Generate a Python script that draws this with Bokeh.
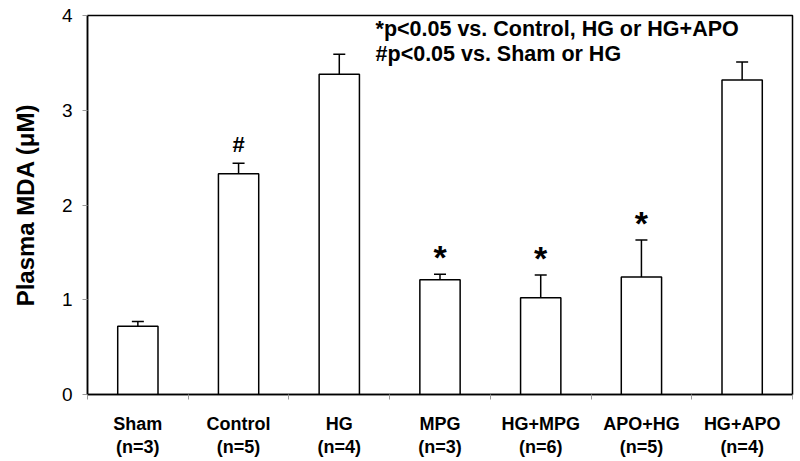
from bokeh.plotting import figure
from bokeh.models import (ColumnDataSource, Range1d, FixedTicker, Whisker, TeeHead, Label)
from bokeh.core.properties import value
from bokeh.embed import file_html
from bokeh.resources import INLINE

categories = ["Sham", "Control", "HG", "MPG", "HG+MPG", "APO+HG", "HG+APO"]
n_labels = ["(n=3)", "(n=5)", "(n=4)", "(n=3)", "(n=6)", "(n=5)", "(n=4)"]
means = [0.72, 2.33, 3.38, 1.21, 1.02, 1.24, 3.32]
sem = [0.05, 0.11, 0.21, 0.06, 0.24, 0.39, 0.19]
marks = ["", "#", "", "*", "*", "*", ""]
y_ticks = [0, 1, 2, 3, 4]
note_lines = ["*p<0.05 vs. Control, HG or HG+APO", "#p<0.05 vs. Sham or HG"]

FONT = "Liberation Sans"

xs = [i + 0.5 for i in range(len(categories))]
src = ColumnDataSource(dict(
    x=xs, top=means, upper=[m + s for m, s in zip(means, sem)]))

p = figure(width=798, height=459, output_backend="svg", toolbar_location=None,
           x_range=Range1d(0, len(categories)), y_range=Range1d(0, 4),
           min_border_left=87, min_border_right=6, min_border_top=15,
           min_border_bottom=64)
p.background_fill_color = "white"
p.border_fill_color = "white"
p.outline_line_color = "black"
p.outline_line_width = 1.5
p.xgrid.visible = False
p.ygrid.visible = False

p.vbar(x="x", top="top", bottom=0, width=0.4, source=src,
       fill_color="white", line_color="black", line_width=1.5)

p.add_layout(Whisker(source=src, base="x", lower="top", upper="upper",
                     lower_head=None,
                     upper_head=TeeHead(size=12, line_color="black", line_width=1.5),
                     line_color="black", line_width=1.5))

# significance marks
star_x = [x for x, m in zip(xs, marks) if m == "*"]
star_y = [u for u, m in zip(src.data["upper"], marks) if m == "*"]
hash_x = [x for x, m in zip(xs, marks) if m == "#"]
hash_y = [u for u, m in zip(src.data["upper"], marks) if m == "#"]
p.text(x=star_x, y=star_y, text=["*"] * len(star_x), text_align="center",
       text_baseline="alphabetic", y_offset=-17, text_font=value(FONT),
       text_font_style="bold", text_font_size="34px", text_color="black")
p.text(x=hash_x, y=hash_y, text=["#"] * len(hash_x), text_align="center",
       text_baseline="alphabetic", y_offset=-19, text_font=value(FONT),
       text_font_style="bold", text_font_size="22px", text_color="black")

# note text
for yv, line in zip([3.982, 3.719], note_lines):
    p.add_layout(Label(x=2.86, y=yv, text=line, text_align="left",
                       text_baseline="top", text_font=FONT,
                       text_font_style="bold", text_font_size="21.5px",
                       text_color="black"))

# x axis
xa = p.xaxis[0]
xa.ticker = FixedTicker(ticks=xs, minor_ticks=list(range(len(categories) + 1)))
xa.major_label_overrides = {x: f"{c}\n{n}" for x, c, n in zip(xs, categories, n_labels)}
xa.major_tick_line_color = None
xa.major_tick_out = 0
xa.major_tick_in = 0
xa.minor_tick_out = 5
xa.minor_tick_in = 0
xa.minor_tick_line_color = "#999999"
xa.axis_line_color = "black"
xa.axis_line_width = 1.5
xa.major_label_standoff = 14
xa.major_label_text_font = FONT
xa.major_label_text_font_style = "bold"
xa.major_label_text_font_size = "18px"
xa.major_label_text_line_height = 1.15
xa.major_label_text_color = "black"

# y axis
ya = p.yaxis[0]
ya.ticker = FixedTicker(ticks=y_ticks, minor_ticks=[])
ya.major_tick_out = 5
ya.major_tick_in = 0
ya.major_tick_line_color = "#999999"
ya.minor_tick_line_color = None
ya.axis_line_color = "black"
ya.axis_line_width = 1.5
ya.major_label_standoff = 10
ya.major_label_text_font = FONT
ya.major_label_text_font_size = "19px"
ya.major_label_text_color = "black"
ya.axis_label = "Plasma MDA (μM)"
ya.axis_label_text_font = FONT
ya.axis_label_text_font_style = "bold"
ya.axis_label_text_font_size = "24px"
ya.axis_label_text_color = "black"
ya.axis_label_standoff = 20

open("out.html", "w").write(file_html(p, INLINE))
